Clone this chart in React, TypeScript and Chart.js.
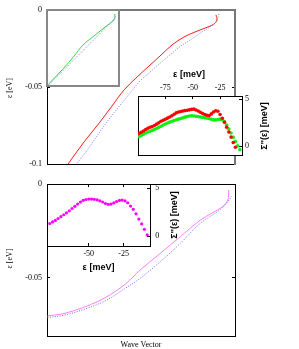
import React, { useEffect, useRef } from "react";
import { Chart, registerables } from "chart.js";

Chart.register(...registerables);
Chart.defaults.font.family = "'Liberation Serif', 'Times New Roman', serif";
Chart.defaults.font.size = 8;
Chart.defaults.color = "#000";

// ---------------- data ----------------
// Top panel, main dispersion curves (wave vector: arbitrary units, energy: eV)
const topRedK = [11.2, 19.7, 28.2, 34.6, 41.0, 47.3, 53.7, 60.1, 66.5, 72.9, 79.3, 85.6, 88.8, 90.4, 89.9];
const topRedE = [-0.1, -0.0857, -0.0727, -0.0623, -0.0519, -0.0442, -0.037, -0.0299, -0.0227, -0.0175, -0.014, -0.011, -0.0091, -0.0065, -0.0032];
const topBlueK = [16.0, 21.8, 28.2, 35.1, 42.6, 49.5, 54.8, 60.1, 65.4, 70.7, 76.1, 81.4, 86.7, 89.9, 91.5];
const topBlueE = [-0.0995, -0.0903, -0.079, -0.0675, -0.0563, -0.0461, -0.0403, -0.0346, -0.0292, -0.0238, -0.0195, -0.0151, -0.011, -0.0078, -0.0026];

// Top-left inset curves
const insetGreenK = [0.02, 0.23, 0.37, 0.5, 0.67, 0.83, 0.93, 0.944, 0.938];
const insetGreenE = [-0.0978, -0.0767, -0.0614, -0.0461, -0.0329, -0.0207, -0.0132, -0.0079, -0.0053];
const insetBlueK = [0.02, 0.37, 0.67, 0.875, 0.93, 0.96];
const insetBlueE = [-0.0987, -0.0658, -0.0372, -0.0175, -0.0118, -0.0079];

// Top-right inset: self energy (meV)
const redEps = [-99, -97, -95, -93, -91, -89, -87, -85, -83, -81, -79, -77, -75, -73, -71, -69, -67, -65, -63, -61, -59, -57, -55, -53, -51, -49, -47, -45, -43, -41, -39, -37, -35, -33, -31, -29, -27, -25, -23, -21, -19, -17, -15, -13, -11];
const redSigma = [1.35, 1.47, 1.6, 1.76, 1.9, 2.0, 2.07, 2.18, 2.33, 2.48, 2.63, 2.75, 2.85, 2.97, 3.09, 3.22, 3.38, 3.53, 3.62, 3.68, 3.73, 3.77, 3.8, 3.85, 3.9, 3.92, 3.83, 3.72, 3.6, 3.46, 3.35, 3.27, 3.25, 3.42, 3.62, 3.75, 3.7, 3.35, 2.95, 2.52, 2.0, 1.5, 0.95, 0.38, -0.12];
const greenEps = [-99, -97, -95, -93, -91, -89, -87, -85, -83, -81, -79, -77, -75, -73, -71, -69, -67, -65, -63, -61, -59, -57, -55, -53, -51, -49, -47, -45, -43, -41, -39, -37, -35, -33, -31, -29, -27, -25, -23, -21, -19, -17, -15, -13, -11, -9, -7];
const greenSigma = [0.99, 1.12, 1.25, 1.38, 1.49, 1.58, 1.66, 1.76, 1.87, 1.99, 2.11, 2.24, 2.35, 2.45, 2.54, 2.63, 2.71, 2.79, 2.86, 2.93, 3.0, 3.07, 3.14, 3.2, 3.21, 3.19, 3.16, 3.13, 3.09, 3.05, 3.01, 2.97, 2.92, 2.85, 2.78, 2.78, 2.83, 2.86, 2.8, 2.6, 2.22, 1.8, 1.38, 0.92, 0.47, 0.02, -0.38];

// Bottom panel, main curves
const botMagK = [0.2, 9.6, 20.3, 30.9, 41.6, 49.6, 60.3, 70.9, 81.6, 86.9, 92.3, 96.0, 96.7];
const botMagE = [-0.0703, -0.0689, -0.0654, -0.0606, -0.0534, -0.0458, -0.0369, -0.0281, -0.0192, -0.016, -0.0128, -0.0091, -0.0032];
const botBlueK = [0.2, 9.6, 20.3, 30.9, 41.6, 49.6, 60.3, 70.9, 81.6, 92.3, 97.2, 98.1];
const botBlueE = [-0.0712, -0.0698, -0.0666, -0.0623, -0.0556, -0.0502, -0.0414, -0.0316, -0.0209, -0.0135, -0.0081, -0.0064];

// Bottom inset: self energy (meV)
const magEps = [-78, -76, -74, -72, -70, -68, -66, -64, -62, -60, -58, -56, -54, -52, -50, -48, -46, -44, -42, -40, -38, -36, -34, -32, -30, -28, -26, -24, -22, -20, -18, -16, -14, -12, -10, -8];
const magSigma = [1.34, 1.5, 1.66, 1.86, 2.05, 2.25, 2.45, 2.66, 2.9, 3.13, 3.36, 3.57, 3.75, 3.84, 3.88, 3.88, 3.86, 3.8, 3.7, 3.58, 3.42, 3.33, 3.36, 3.48, 3.63, 3.74, 3.78, 3.7, 3.5, 3.15, 2.82, 2.35, 1.8, 1.3, 0.73, 0.15];

// tick values
const topMainYTicks = [-0.1, -0.05, 0];
const botMainYTicks = [-0.05, 0];
const mirrorYTicks = [-0.05];
const topInsetXTicks = [-75, -50, -25];
const botInsetXTicks = [-50, -25];
const sigmaTicks = [0, 5];

// ---------------- helpers ----------------
const pts = (xs: number[], ys: number[]) => xs.map((x, i) => ({ x, y: ys[i] }));

type AxOpts = {
  pos: "left" | "right" | "top" | "bottom";
  min: number;
  max: number;
  size: number;
  color?: string;
  width?: number;
  ticks?: number[];
  labels?: boolean;
  pad?: number;
};

function axis(o: AxOpts) {
  const tv = o.ticks || [];
  return {
    type: "linear",
    display: true,
    position: o.pos,
    min: o.min,
    max: o.max,
    afterBuildTicks: (s: any) => {
      s.ticks = tv.map((v) => ({ value: v }));
    },
    afterFit: (s: any) => {
      if (o.pos === "left" || o.pos === "right") s.width = o.size;
      else s.height = o.size;
      s.paddingTop = 0;
      s.paddingBottom = 0;
      s.paddingLeft = 0;
      s.paddingRight = 0;
    },
    grid: {
      display: tv.length > 0,
      drawOnChartArea: false,
      drawTicks: true,
      tickLength: -3,
      color: "#000",
      lineWidth: 1,
    },
    border: { display: true, color: o.color || "#000", width: o.width || 1 },
    ticks: {
      display: !!o.labels,
      padding: o.pad ?? 6,
      color: "#000",
      autoSkip: false,
      maxRotation: 0,
      minRotation: 0,
      font: { family: "'Liberation Serif', serif", size: 8 },
      callback: (v: any) => String(v),
    },
  };
}

type TextItem = { text: string; x: number; y: number; rot?: number; font: string };
function textPlugin(items: TextItem[]) {
  return {
    id: "texts",
    afterDraw(chart: any) {
      const ctx = chart.ctx;
      ctx.save();
      ctx.fillStyle = "#000";
      ctx.textAlign = "center";
      ctx.textBaseline = "middle";
      for (const t of items) {
        ctx.save();
        ctx.translate(t.x, t.y);
        if (t.rot) ctx.rotate(t.rot);
        ctx.font = t.font;
        ctx.fillText(t.text, 0, 0);
        ctx.restore();
      }
      ctx.restore();
    },
  };
}

const whiteArea = {
  id: "whiteArea",
  beforeDraw(chart: any) {
    const { ctx, chartArea: a } = chart;
    ctx.save();
    ctx.fillStyle = "#fff";
    ctx.fillRect(a.left, a.top, a.right - a.left, a.bottom - a.top);
    ctx.restore();
  },
};

const SERIF = "8px 'Liberation Serif', serif";
const BOLD = "bold 9px 'Liberation Sans', Arial, sans-serif";

function baseOptions(padding: any, scales: any) {
  return {
    responsive: false,
    animation: false,
    events: [],
    layout: { padding },
    plugins: { legend: { display: false }, tooltip: { enabled: false } },
    scales,
  };
}

const lineDs = (data: any, color: string, dash?: number[]) => ({
  data,
  showLine: true,
  borderColor: color,
  borderWidth: 1,
  borderDash: dash || [],
  pointRadius: 0,
  tension: 0.35,
  fill: false,
});
const dotDs = (data: any, color: string, r: number) => ({
  data,
  showLine: false,
  pointRadius: r,
  pointBackgroundColor: color,
  pointBorderWidth: 0,
  borderColor: color,
});

// ---------------- chart configs ----------------
function topMainConfig() {
  return {
    type: "scatter",
    data: {
      datasets: [
        lineDs(pts(topBlueK, topBlueE), "#7a7aff", [1, 1.5]),
        lineDs(pts(topRedK, topRedE), "#ff1a1a"),
      ],
    },
    options: baseOptions(
      { left: 0, top: 10, right: 64, bottom: 11 },
      {
        x: axis({ pos: "bottom", min: 0, max: 100, size: 0 }),
        x2: axis({ pos: "top", min: 0, max: 100, size: 0, color: "#777", width: 2 }),
        y: axis({ pos: "left", min: -0.1, max: 0, size: 47, ticks: topMainYTicks, labels: true, pad: 8 }),
        y2: axis({ pos: "right", min: -0.1, max: 0, size: 0, ticks: mirrorYTicks, color: "#777", width: 2 }),
      }
    ),
    plugins: [textPlugin([{ text: "ε [eV]", x: 10, y: 88, rot: -Math.PI / 2, font: SERIF }])],
  };
}

function topLeftInsetConfig() {
  return {
    type: "scatter",
    data: {
      datasets: [
        lineDs(pts(insetBlueK, insetBlueE), "#7a7aff", [1, 1.5]),
        lineDs(pts(insetGreenK, insetGreenE), "#33dd33"),
      ],
    },
    options: baseOptions(
      { left: 1, top: 1, right: 1, bottom: 1 },
      {
        x: axis({ pos: "bottom", min: 0, max: 1, size: 0, color: "#888", width: 2 }),
        x2: axis({ pos: "top", min: 0, max: 1, size: 0, color: "#888", width: 2 }),
        y: axis({ pos: "left", min: -0.1, max: 0, size: 0, color: "#888", width: 2 }),
        y2: axis({ pos: "right", min: -0.1, max: 0, size: 0, color: "#888", width: 2 }),
      }
    ),
    plugins: [whiteArea],
  };
}

function topRightInsetConfig() {
  return {
    type: "scatter",
    data: {
      datasets: [
        dotDs(pts(redEps, redSigma), "#ff0000", 1.8),
        dotDs(pts(greenEps, greenSigma), "#11ee11", 1.8),
      ],
    },
    options: baseOptions(
      { left: 18, top: 16, right: 37, bottom: 4 },
      {
        x: axis({ pos: "top", min: -100, max: -5, size: 16, ticks: topInsetXTicks, labels: true, pad: 6.2 }),
        x2: axis({ pos: "bottom", min: -100, max: -5, size: 0 }),
        y: axis({ pos: "right", min: -0.95, max: 5.32, size: 20, ticks: sigmaTicks, labels: true, pad: 6 }),
        y2: axis({ pos: "left", min: -0.95, max: 5.32, size: 0 }),
      }
    ),
    plugins: [
      whiteArea,
      textPlugin([
        { text: "ε [meV]", x: 69, y: 11, font: BOLD },
        { text: "Σ''(ε) [meV]", x: 145, y: 62, rot: -Math.PI / 2, font: BOLD },
      ]),
    ],
  };
}

function botMainConfig() {
  return {
    type: "scatter",
    data: {
      datasets: [
        lineDs(pts(botBlueK, botBlueE), "#6a6aff", [1, 1.5]),
        lineDs(pts(botMagK, botMagE), "#ff7dff"),
      ],
    },
    options: baseOptions(
      { left: 0, top: 9, right: 64, bottom: 13 },
      {
        x: axis({ pos: "bottom", min: 0, max: 100, size: 0 }),
        x2: axis({ pos: "top", min: 0, max: 100, size: 0 }),
        y: axis({ pos: "left", min: -0.081, max: 0, size: 47, ticks: botMainYTicks, labels: true, pad: 8 }),
        y2: axis({ pos: "right", min: -0.081, max: 0, size: 0, ticks: mirrorYTicks }),
      }
    ),
    plugins: [
      textPlugin([
        { text: "ε [eV]", x: 10, y: 83.5, rot: -Math.PI / 2, font: SERIF },
        { text: "Wave Vector", x: 141, y: 170, font: SERIF },
      ]),
    ],
  };
}

function botInsetConfig() {
  return {
    type: "scatter",
    data: { datasets: [dotDs(pts(magEps, magSigma), "#ff00ff", 1.6)] },
    options: baseOptions(
      { left: 17, top: 9, right: 30, bottom: 13 },
      {
        x: axis({ pos: "bottom", min: -80, max: -6, size: 16, ticks: botInsetXTicks, labels: true, pad: 6.5 }),
        x2: axis({ pos: "top", min: -80, max: -6, size: 0, ticks: botInsetXTicks }),
        y: axis({ pos: "right", min: -1, max: 5.45, size: 20, ticks: sigmaTicks, labels: true, pad: 8.3 }),
        y2: axis({ pos: "left", min: -1, max: 5.45, size: 0 }),
      }
    ),
    plugins: [
      whiteArea,
      textPlugin([
        { text: "ε [meV]", x: 68.5, y: 92.5, font: BOLD },
        { text: "Σ''(ε) [meV]", x: 145, y: 40, rot: -Math.PI / 2, font: BOLD },
      ]),
    ],
  };
}

function ChartCanvas(props: { left: number; top: number; width: number; height: number; make: () => any }) {
  const ref = useRef<HTMLCanvasElement | null>(null);
  useEffect(() => {
    if (!ref.current) return;
    const chart = new Chart(ref.current, props.make());
    return () => chart.destroy();
  }, []);
  return (
    <canvas
      ref={ref}
      width={props.width}
      height={props.height}
      style={{
        position: "absolute",
        left: props.left,
        top: props.top,
        width: props.width,
        height: props.height,
      }}
    />
  );
}

export default function App() {
  return (
    <div style={{ position: "absolute", left: 0, top: 0, width: 299, height: 349, background: "#fff" }}>
      <ChartCanvas left={0} top={0} width={299} height={175} make={topMainConfig} />
      <ChartCanvas left={0} top={175} width={299} height={174} make={botMainConfig} />
      <ChartCanvas left={46} top={9} width={74} height={78} make={topLeftInsetConfig} />
      <ChartCanvas left={120} top={64} width={179} height={95} make={topRightInsetConfig} />
      <ChartCanvas left={30} top={175} width={170} height={100} make={botInsetConfig} />
    </div>
  );
}
